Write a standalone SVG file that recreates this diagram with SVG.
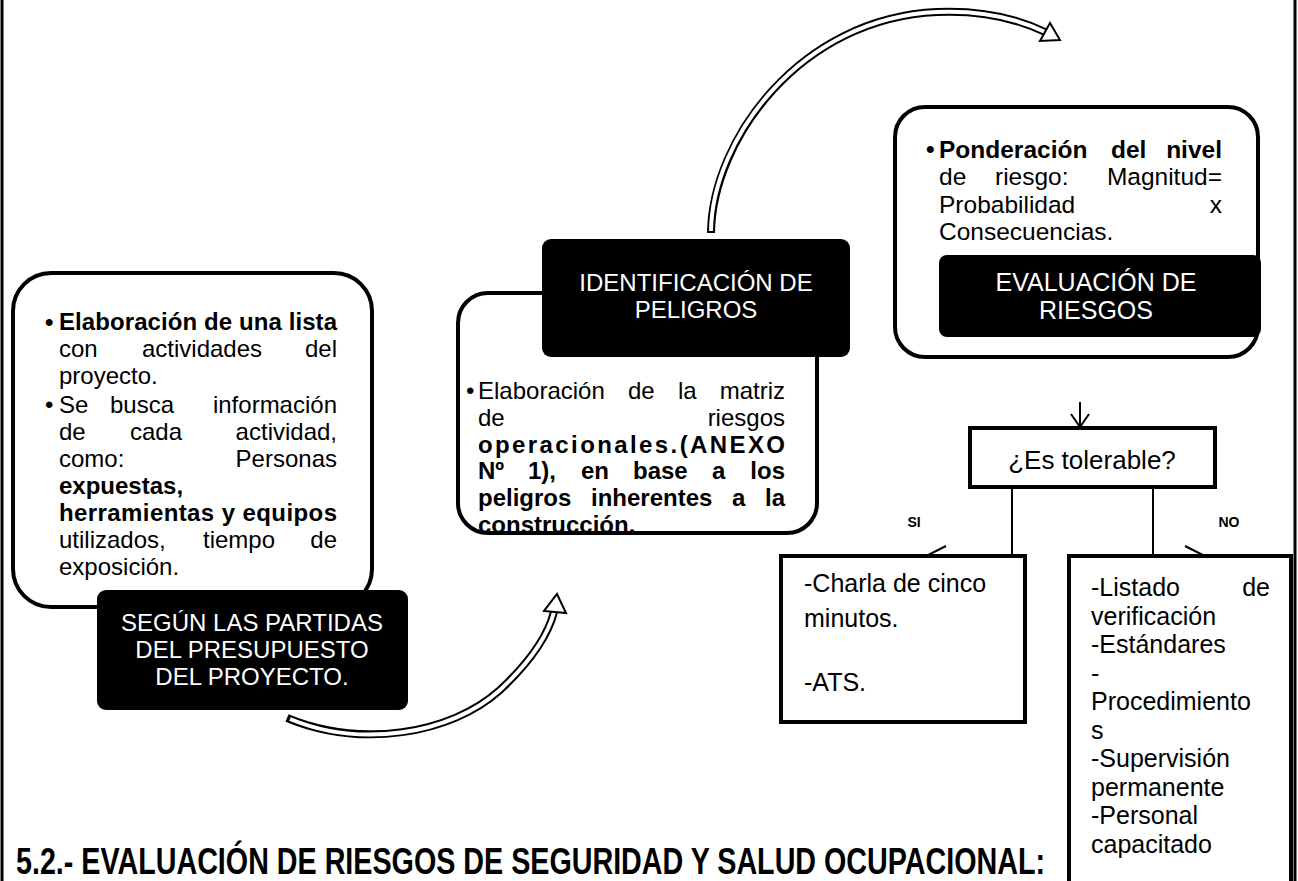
<svg xmlns="http://www.w3.org/2000/svg" width="1298" height="881" viewBox="0 0 1298 881">
<style>
text { font-family: "Liberation Sans", Arial, sans-serif; fill: #000; font-size: 24px; }
.b { font-weight: bold; }
.m { font-size: 25px; }
.k { font-size: 24.5px; }
.w { fill: #fff; font-size: 24px; text-anchor: middle; }
.w2 { fill: #fff; font-size: 25px; text-anchor: middle; }
.e { text-anchor: end; }
.c { text-anchor: middle; }
.outline { fill: #fff; stroke: #000; stroke-width: 4; }
.dark { fill: #000; }
.box { fill: #fff; stroke: #000; stroke-width: 4; }
.ln { fill: none; stroke: #000; stroke-width: 2; }
.arcO { fill: none; stroke: #000; stroke-width: 8; }
.arcI { fill: none; stroke: #fff; stroke-width: 4; }
.head { fill: #fff; stroke: #000; stroke-width: 2; }
.frame { stroke: #000; stroke-width: 3; }
</style>
<rect width="1298" height="881" fill="#fff"/>
<line class="frame" x1="2" y1="0" x2="2" y2="881"/>
<line class="frame" x1="1295" y1="0" x2="1295" y2="881"/>

<g id="connectors">
  <path class="arcO" d="M711,233 C712,140 800,18 937,12 C985,10 1020,20 1045,32"/>
  <path class="arcI" d="M711,231 C712,140 800,18 937,12 C985,10 1020,20 1045,32"/>
  <polygon class="head" points="1060,40 1040,41 1050,23"/>
  <path class="arcO" d="M287,718 C360,748 450,735 500,690 C530,662 548,635 554,612"/>
  <path class="arcI" d="M290,719 C360,748 450,735 500,690 C530,662 548,635 554,612"/>
  <polygon class="head" points="557,594 566,613 544,611"/>
  <line class="ln" x1="1080" y1="402" x2="1080" y2="427"/>
  <polyline class="ln" points="1071,414 1080,427 1089,414"/>
  <path class="ln" d="M1012,487 V555 H929"/>
  <polyline class="ln" points="946,546 928,555 946,564"/>
  <path class="ln" d="M1153,487 V555 H1201"/>
  <polyline class="ln" points="1185,546 1203,555 1185,564"/>
  <text class="b c" style="font-size:14px" x="914" y="527">SI</text>
  <text class="b c" style="font-size:14px" x="1229" y="527">NO</text>
</g>

<g id="node-partidas">
  <rect class="outline" x="13" y="273" width="359" height="334" rx="38"/>
  <text class="b" x="45" y="330">•</text>
  <text class="b" x="59" y="330" textLength="278" lengthAdjust="spacing">Elaboración de una lista</text>
  <text x="59" y="357">con</text><text class="c" x="202" y="357">actividades</text><text class="e" x="337" y="357">del</text>
  <text x="59" y="384">proyecto.</text>
  <text x="45" y="413">•</text>
  <text x="59" y="413">Se</text><text x="110" y="413">busca</text><text class="e" x="337" y="413">información</text>
  <text x="59" y="440">de</text><text x="130" y="440">cada</text><text class="e" x="337" y="440">actividad,</text>
  <text x="59" y="467">como:</text><text class="e" x="337" y="467">Personas</text>
  <text class="b" x="59" y="494">expuestas,</text>
  <text class="b" x="59" y="521" textLength="278" lengthAdjust="spacing">herramientas y equipos</text>
  <text x="59" y="548">utilizados,</text><text x="203" y="548">tiempo</text><text class="e" x="337" y="548">de</text>
  <text x="59" y="575">exposición.</text>
  <rect class="dark" x="97" y="590" width="311" height="120" rx="9"/>
  <text class="w" x="252" y="631">SEGÚN LAS PARTIDAS</text>
  <text class="w" x="252" y="658">DEL PRESUPUESTO</text>
  <text class="w" x="252" y="685">DEL PROYECTO.</text>
</g>

<g id="node-identificacion">
  <rect class="outline" x="458" y="293" width="359" height="240" rx="30"/>
  <rect class="dark" x="542" y="239" width="308" height="118" rx="9"/>
  <text class="w" x="696" y="291">IDENTIFICACIÓN DE</text>
  <text class="w" x="696" y="318">PELIGROS</text>
  <text x="466" y="399">•</text>
  <text x="478" y="399">Elaboración</text><text x="628" y="399">de</text><text x="678" y="399">la</text><text class="e" x="785" y="399">matriz</text>
  <text x="478" y="426">de</text><text class="e" x="785" y="426">riesgos</text>
  <text class="b" x="478" y="453" textLength="307" lengthAdjust="spacing">operacionales.(ANEXO</text>
  <text class="b" x="478" y="479">Nº</text><text class="b" x="528" y="479">1),</text><text class="b" x="581" y="479">en</text><text class="b" x="633" y="479">base</text><text class="b" x="712" y="479">a</text><text class="b e" x="785" y="479">los</text>
  <text class="b" x="478" y="506">peligros</text><text class="b" x="591" y="506">inherentes</text><text class="b" x="732" y="506">a</text><text class="b e" x="785" y="506">la</text>
  <text class="b" x="478" y="533">construcción.</text>
</g>

<g id="node-evaluacion">
  <rect class="outline" x="895" y="107" width="363" height="250" rx="30"/>
  <text class="k b" x="926" y="158">•</text>
  <text class="k b" x="939" y="158">Ponderación</text><text class="k b" x="1111" y="158">del</text><text class="k b e" x="1222" y="158">nivel</text>
  <text class="k" x="939" y="185.4">de</text><text class="k" x="995" y="185.4">riesgo:</text><text class="k e" x="1222" y="185.4">Magnitud=</text>
  <text class="k" x="939" y="212.8">Probabilidad</text><text class="k e" x="1222" y="212.8">x</text>
  <text class="k" x="939" y="240.2">Consecuencias.</text>
  <rect class="dark" x="939" y="255" width="322" height="82" rx="8"/>
  <text class="w2" x="1096" y="291">EVALUACIÓN DE</text>
  <text class="w2" x="1096" y="319">RIESGOS</text>
</g>

<g id="node-tolerable">
  <rect class="box" x="970" y="428" width="245" height="59"/>
  <text class="c" style="font-size:26px" x="1092" y="469">¿Es tolerable?</text>
</g>

<g id="node-si">
  <rect class="box" x="781" y="556" width="244" height="166"/>
  <text class="m" x="804" y="592">-Charla de cinco</text>
  <text class="m" x="804" y="627">minutos.</text>
  <text class="m" x="804" y="691">-ATS.</text>
</g>

<g id="node-no">
  <rect class="box" x="1069" y="556" width="222" height="340"/>
  <text class="m" x="1091" y="596">-Listado</text><text class="m e" x="1270" y="596">de</text>
  <text class="m" x="1091" y="624.5">verificación</text>
  <text class="m" x="1091" y="653">-Estándares</text>
  <text class="m" x="1091" y="681.5">-</text>
  <text class="m" x="1091" y="710">Procedimiento</text>
  <text class="m" x="1091" y="738.5">s</text>
  <text class="m" x="1091" y="767">-Supervisión</text>
  <text class="m" x="1091" y="795.5">permanente</text>
  <text class="m" x="1091" y="824">-Personal</text>
  <text class="m" x="1091" y="852.5">capacitado</text>
</g>

<g id="title">
  <text class="b" style="font-size:28px" transform="translate(16,874) scale(1,1.3)" textLength="1029" lengthAdjust="spacingAndGlyphs">5.2.- EVALUACIÓN DE RIESGOS DE SEGURIDAD Y SALUD OCUPACIONAL:</text>
</g>
</svg>
